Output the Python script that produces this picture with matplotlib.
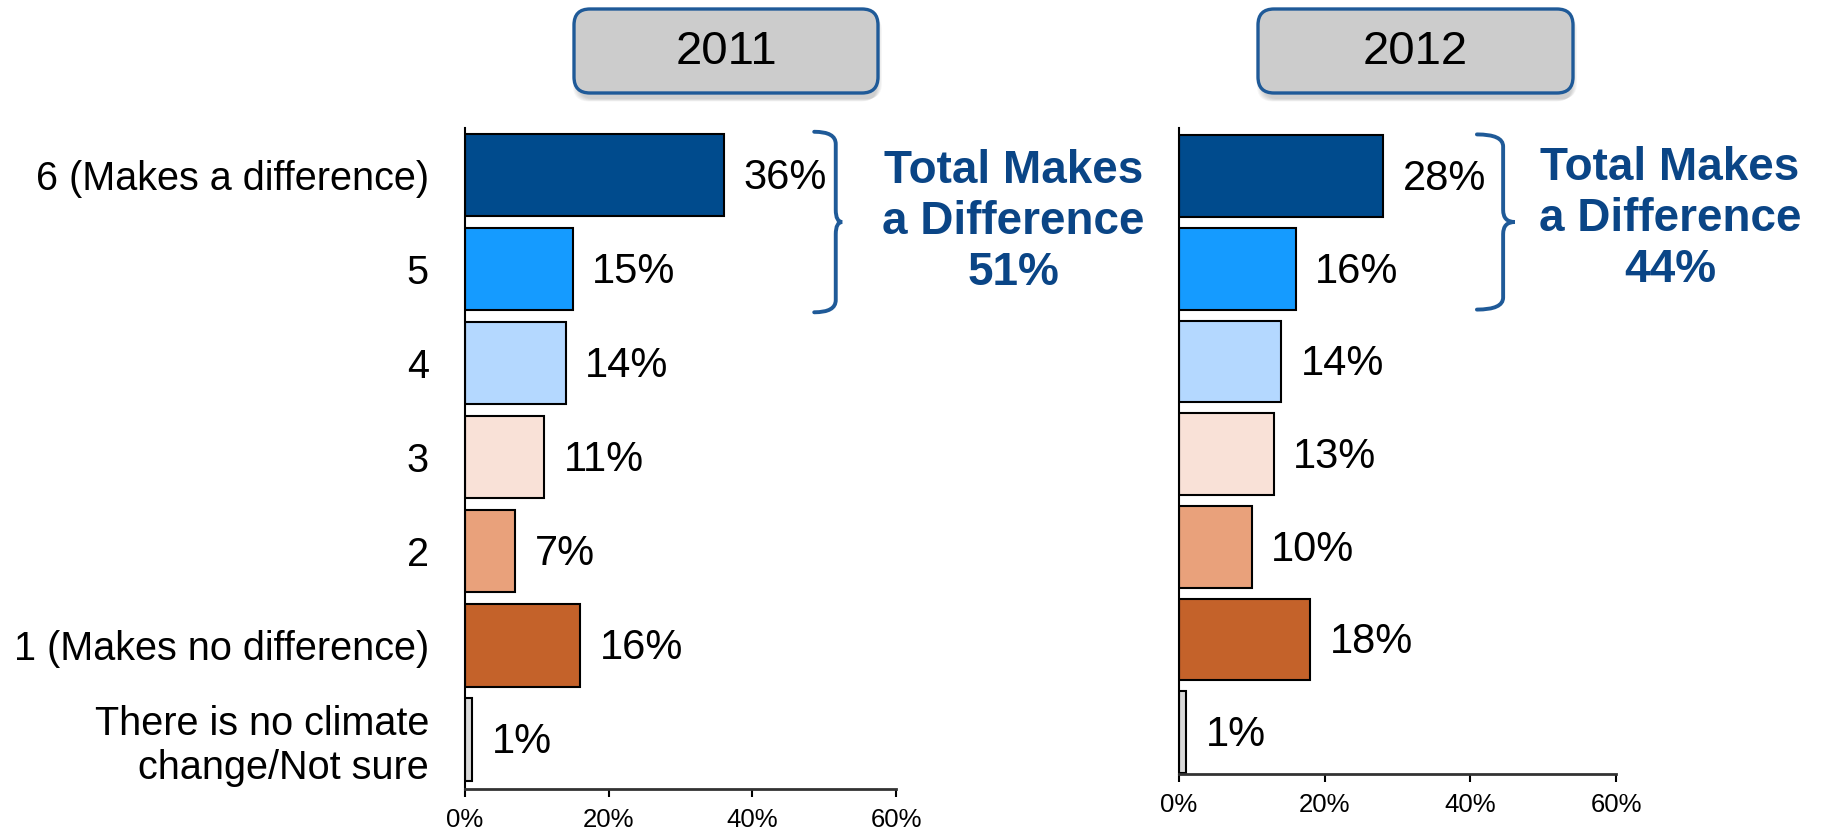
import numpy as np
import matplotlib
matplotlib.use("Agg")
import matplotlib.pyplot as plt
from matplotlib.patches import FancyBboxPatch, PathPatch
from matplotlib.path import Path

plt.rcParams['font.family'] = ['Liberation Sans', 'DejaVu Sans']

# data
categories = ["6 (Makes a difference)", "5", "4", "3", "2",
              "1 (Makes no difference)", "There is no climate\nchange/Not sure"]
values_2011 = [36, 15, 14, 11, 7, 16, 1]
values_2012 = [28, 16, 14, 13, 10, 18, 1]
years = ["2011", "2012"]
totals = [51, 44]
bar_colors = ["#004B8D", "#159BFF", "#B4D8FF", "#F9E1D7", "#E9A17B", "#C4622A", "#D9D9D9"]
xticks = [0, 20, 40, 60]

navy = "#0A4586"
brace_col = "#1F5A98"

fig = plt.figure(figsize=(18.31, 8.35), dpi=100)

# axes placement (fractions of figure)
ax_specs = [
    dict(rect=[0.254, 0.0551, 0.2354, 0.7916], ylim=(6.53, -0.5), labels=True,
         brace=(48.6, 51.6, 52.5, -0.46, 1.46), text_x=76.3, text_y=0.5),
    dict(rect=[0.6439, 0.0731, 0.2387, 0.7737], ylim=(6.45, -0.52), labels=False,
         brace=(40.9, 44.5, 46.1, -0.45, 1.44), text_x=67.4, text_y=0.46),
]


def draw_brace(ax, x0, x1, x2, ytop, ybot, r=0.13):
    ymid = (ytop + ybot) / 2
    verts = [(x0, ytop), (x1, ytop), (x1, ytop + r),
             (x1, ymid - r),
             (x1, ymid), (x2, ymid),
             (x1, ymid), (x1, ymid + r),
             (x1, ybot - r),
             (x1, ybot), (x0, ybot)]
    codes = [Path.MOVETO, Path.CURVE3, Path.CURVE3,
             Path.LINETO,
             Path.CURVE3, Path.CURVE3,
             Path.CURVE3, Path.CURVE3,
             Path.LINETO,
             Path.CURVE3, Path.CURVE3]
    ax.add_patch(PathPatch(Path(verts, codes), fill=False, edgecolor=brace_col,
                           lw=2.8, clip_on=False, capstyle='round'))


for spec, vals, total in zip(ax_specs, [values_2011, values_2012], totals):
    ax = fig.add_axes(spec["rect"])
    y = np.arange(len(categories))
    ax.barh(y, vals, height=0.88, color=bar_colors, edgecolor="black", linewidth=1.5)
    for yi, v in zip(y, vals):
        ax.annotate(f"{v}%", (v, yi), xytext=(14, -2), textcoords="offset points",
                    ha="left", va="center", fontsize=30)
    ax.set_xlim(0, 60)
    ax.set_ylim(*spec["ylim"])
    ax.set_xticks(xticks)
    ax.set_xticklabels([f"{t}%" for t in xticks], fontsize=18.5)
    ax.set_yticks(y)
    if spec["labels"]:
        ax.set_yticklabels(categories, fontsize=28.5)
    else:
        ax.set_yticklabels([])
    ax.tick_params(axis="y", length=0, pad=26)
    ax.tick_params(axis="x", direction="out", length=5.5, width=1.5, pad=8)
    for s in ["top", "right"]:
        ax.spines[s].set_visible(False)
    ax.spines["left"].set_linewidth(1.5)
    ax.spines["bottom"].set_linewidth(2)
    ax.spines["bottom"].set_color("#333333")
    ax.set_facecolor("none")
    draw_brace(ax, *spec["brace"])
    ax.text(spec["text_x"], spec["text_y"], f"Total Makes\na Difference\n{total}%",
            ha="center", va="center", fontsize=33, fontweight="bold", color=navy,
            linespacing=1.2, clip_on=False)

# year header boxes, drawn in pixel space
over = fig.add_axes([0, 0, 1, 1], zorder=-1)
over.set_xlim(0, 1831)
over.set_ylim(835, 0)
over.axis("off")
boxes = [(574, 9, 304, 84), (1258, 9, 315, 84)]
for (bx, by, bw, bh), yr in zip(boxes, years):
    for k in range(6):
        over.add_patch(FancyBboxPatch((bx + 4 - k, by + 6 - k * 0.5), bw, bh + k,
                                      boxstyle="round,pad=0,rounding_size=16",
                                      facecolor="#808080", edgecolor="none", alpha=0.07))
    over.add_patch(FancyBboxPatch((bx, by), bw, bh, boxstyle="round,pad=0,rounding_size=16",
                                  facecolor="#CCCCCC", edgecolor="#1F5A98", linewidth=2.4))
    over.text(bx + bw / 2, by + bh / 2 + 1, yr, ha="center", va="center", fontsize=34)

fig.savefig("out.png", dpi=100)
